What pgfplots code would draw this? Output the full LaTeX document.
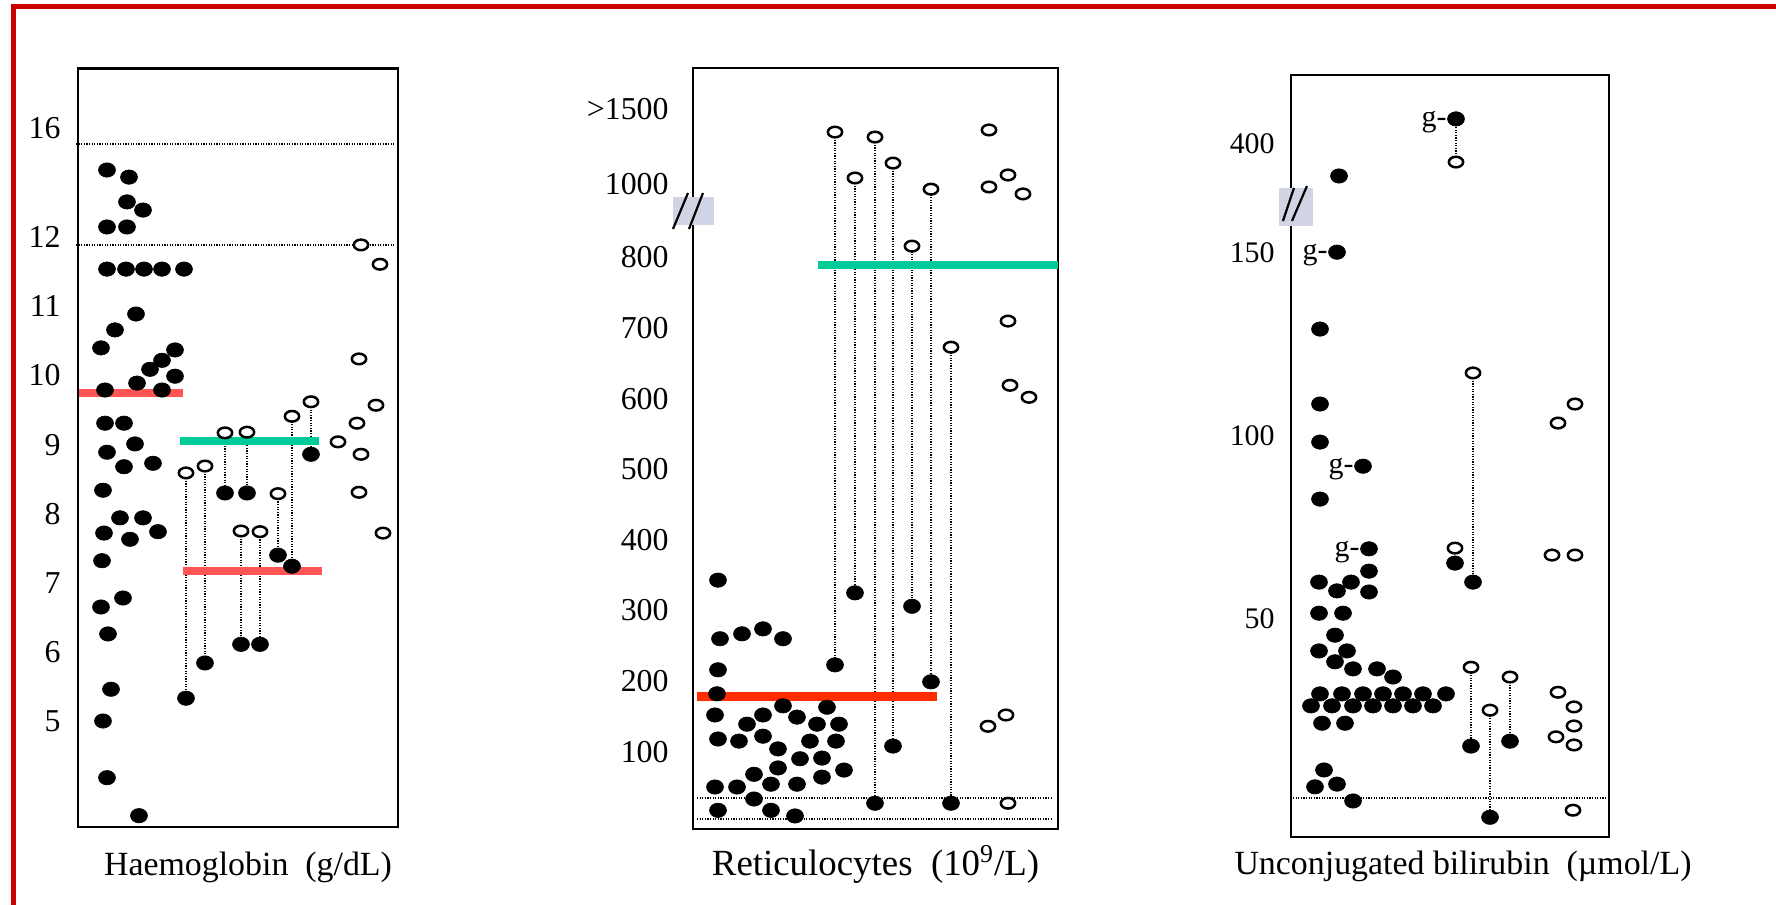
\documentclass[border=0pt]{standalone}
\usepackage{pgfplots}
\pgfplotsset{compat=1.18}
\usepackage{pgfplotstable}
\usepackage{fontspec}
\setmainfont{Liberation Serif}
\definecolor{frame}{RGB}{204,0,0}
\definecolor{meanred}{RGB}{255,85,85}
\definecolor{meanred2}{RGB}{255,45,0}
\definecolor{meangreen}{RGB}{0,204,153}
\definecolor{breakbg}{RGB}{208,212,228}

\pgfplotsset{
  dotplot/.style={
    scale only axis, clip=false,
    x=0.5bp, y=0.5bp, anchor=south west,
    axis line style={line width=1.4bp},
    xtick=\empty, major tick length=0pt,
    yticklabel style={inner sep=0pt},
  },
  fdot/.style={only marks, mark=*, mark size=3.6bp, mark options={fill=black, draw=black, line width=0.3bp, xscale=1.18}},
  odot/.style={only marks, mark=*, mark size=2.65bp, mark options={fill=white, draw=black, line width=1.25bp, xscale=1.35}},
  conn/.style={no marks, black, line width=1bp, dash pattern=on 0.6bp off 0.7bp},
  refl/.style={no marks, black, line width=1bp, dash pattern=on 0.6bp off 0.7bp},
}

% ---------------- Haemoglobin (g/dL) ----------------
\pgfplotstableread{
x v
107 14.47
129 14.21
127 13.30
143 13.00
107 12.38
127 12.38
107 11.54
126 11.54
144 11.54
162 11.54
184 11.54
136 10.89
115 10.66
101 10.40
175 10.37
162 10.22
150 10.09
175 9.99
137 9.89
105 9.79
162 9.79
105 9.31
124 9.31
135 9.01
107 8.89
124 8.68
153 8.73
103 8.34
120 7.94
143 7.94
104 7.72
130 7.63
158 7.74
102 7.32
123 6.78
101 6.65
108 6.26
111 5.46
103 5.00
107 4.18
139 3.63
}\hbFilled
\pgfplotstableread{
x o f
186 8.59 5.33
205 8.69 5.84
225 9.17 8.30
247 9.18 8.30
241 7.75 6.11
260 7.74 6.11
278 8.29 7.40
292 9.41 7.24
311 9.62 8.86
}\hbPairs
\pgfplotstableread{
x v
361 11.89
380 11.61
359 10.24
376 9.57
357 9.31
338 9.04
361 8.86
359 8.31
383 7.72
}\hbOpen

% ---------------- Reticulocytes (10^9/L) ----------------
\pgfplotstableread{
x v
718 343
720 260
742 267
763 274
783 260
718 216
717 182
715 152
747 139
763 152
783 165
797 149
817 139
827 163
839 139
718 118
739 115
763 122
778 104
810 115
836 115
800 90
822 91
778 77
754 68
844 74
822 64
715 50
737 50
771 54
797 54
754 33
718 17
771 17
795 9
}\retFilled
\pgfplotstableread{
x o f
835 1345 223
855 1040 325
875 1312 27
893 1139 108
912 831 306
931 986 199
951 673 27
}\retPairs
\pgfplotstableread{
x v
989 1359
989 992
1008 1060
1023 973
1008 710
1010 619
1029 602
988 136
1006 152
1008 27
}\retOpen

% ---------------- Unconjugated bilirubin (umol/L) ----------------
\pgfplotstableread{
x v
1339 326
1337 151
1320 129.1
1320 108.6
1320 98.2
1363 91.6
1320 82.6
1369 69.0
1369 62.9
1319 59.9
1337 57.5
1351 59.9
1369 57.2
1319 51.4
1343 51.4
1335 46.9
1319 44.0
1347 44.0
1335 42.0
1353 40.7
1377 40.7
1393 39.2
1320 36.1
1342 36.1
1363 36.1
1383 36.1
1403 36.1
1423 36.1
1446 36.1
1311 33.9
1332 33.9
1353 33.9
1373 33.9
1393 33.9
1413 33.9
1433 33.9
1322 30.7
1345 30.7
1324 22.1
1315 19.0
1337 19.5
1353 16.4
1455 65.1
}\bilFilled
\pgfplotstableread{
x o f
1456 358 457
1473 117.1 59.9
1471 41.0 26.5
1490 33.1 13.4
1510 39.2 27.4
}\bilPairs
\pgfplotstableread{
x v
1455 69.2
1558 103.4
1575 108.6
1552 67.3
1575 67.3
1558 36.4
1574 33.7
1574 30.2
1556 28.2
1574 26.7
1573 14.7
}\bilOpen

\begin{document}
\begin{tikzpicture}
\useasboundingbox (0,0) rectangle (888bp,-452.5bp);
\fill[white] (0,0) rectangle (888bp,-452.5bp);

% ===== Panel 1 =====
\begin{axis}[dotplot,
  at={(39bp,-413.5bp)},
  xmin=78, xmax=398,
  y coord trafo/.code={\pgfmathparse{ifthenelse(#1>12,27.25*#1-564.3,69.1*#1-1066.5)}},
  y coord inv trafo/.code={\pgfmathparse{ifthenelse(#1>-237.3,(#1+564.3)/27.25,(#1+1066.5)/69.1)}},
  ymin=3.466, ymax=18.21,
  ytick={5,6,7,8,9,10,11,12,16},
  yticklabels={5,6,7,8,9,10,11,12,16},
  yticklabel style={font=\fontsize{16}{16}\selectfont, xshift=-8.5bp},
  xlabel={Haemoglobin\ \ (g/dL)},
  xlabel style={font=\fontsize{17}{17}\selectfont, at={(axis description cs:0.5,0)}, anchor=base, inner sep=0pt, yshift=-24bp, xshift=5bp},
]
\addplot[refl] coordinates {(76,15.42) (395,15.42)};
\addplot[refl] coordinates {(76,11.89) (395,11.89)};
\addplot[conn] coordinates {(186,8.59) (186,5.33)};
\addplot[conn] coordinates {(205,8.69) (205,5.84)};
\addplot[conn] coordinates {(225,9.17) (225,8.30)};
\addplot[conn] coordinates {(247,9.18) (247,8.30)};
\addplot[conn] coordinates {(241,7.75) (241,6.11)};
\addplot[conn] coordinates {(260,7.74) (260,6.11)};
\addplot[conn] coordinates {(278,8.29) (278,7.40)};
\addplot[conn] coordinates {(292,9.41) (292,7.24)};
\addplot[conn] coordinates {(311,9.62) (311,8.86)};
\addplot[odot] table[x=x,y=v] {\hbOpen};
\addplot[odot] table[x=x,y=o] {\hbPairs};
\addplot[fdot] table[x=x,y=v] {\hbFilled};
\addplot[fdot] table[x=x,y=f] {\hbPairs};
\addplot[meanred, line width=4bp] coordinates {(79,9.75) (183,9.75)};
\addplot[meangreen, line width=3.8bp] coordinates {(180,9.05) (319,9.05)};
\addplot[meanred, line width=4bp] coordinates {(183,7.17) (322,7.17)};
\end{axis}

% ===== Panel 2 =====
\begin{axis}[dotplot,
  at={(346.5bp,-414.5bp)},
  xmin=693, xmax=1058,
  y coord trafo/.code={\pgfmathparse{ifthenelse(#1>1000,0.1506*#1-334.6,ifthenelse(#1>800,0.3675*#1-551.5,0.706*#1-822.3))}},
  y coord inv trafo/.code={\pgfmathparse{ifthenelse(#1>-184,(#1+334.6)/0.1506,ifthenelse(#1>-257.5,(#1+551.5)/0.3675,(#1+822.3)/0.706))}},
  ymin=-9.49, ymax=1770.3,
  ytick={100,200,300,400,500,600,700,800,1000,1500},
  yticklabels={100,200,300,400,500,600,700,800,1000,{>1500}},
  yticklabel style={font=\fontsize{16}{16}\selectfont, xshift=-12bp},
  xlabel={Reticulocytes\ \ (10\textsuperscript{9}/L)},
  xlabel style={font=\fontsize{18.5}{18.5}\selectfont, at={(axis description cs:0.5,0)}, anchor=base, inner sep=0pt, yshift=-23bp},
]
\addplot[refl] coordinates {(697,34) (1053,34)};
\addplot[refl] coordinates {(697,5) (1053,5)};
\addplot[conn] coordinates {(835,1345) (835,223)};
\addplot[conn] coordinates {(855,1040) (855,325)};
\addplot[conn] coordinates {(875,1312) (875,27)};
\addplot[conn] coordinates {(893,1139) (893,108)};
\addplot[conn] coordinates {(912,831) (912,306)};
\addplot[conn] coordinates {(931,986) (931,199)};
\addplot[conn] coordinates {(951,673) (951,27)};
\addplot[odot] table[x=x,y=v] {\retOpen};
\addplot[odot] table[x=x,y=o] {\retPairs};
\addplot[fdot] table[x=x,y=v] {\retFilled};
\addplot[fdot] table[x=x,y=f] {\retPairs};
\addplot[meanred2, line width=4.2bp] coordinates {(697,178) (937,178)};
\addplot[meangreen, line width=3.8bp] coordinates {(818,789) (1058,789)};
\end{axis}

% ===== Panel 3 =====
\begin{axis}[dotplot,
  at={(645.5bp,-418.5bp)},
  xmin=1291, xmax=1609,
  y coord trafo/.code={\pgfmathparse{ifthenelse(#1>150,0.4356*#1-317.94,ifthenelse(#1>50,3.657*#1-801.15,5.436*#1-890.1))}},
  y coord inv trafo/.code={\pgfmathparse{ifthenelse(#1>-252.6,(#1+317.94)/0.4356,ifthenelse(#1>-618.3,(#1+801.15)/3.657,(#1+890.1)/5.436))}},
  ymin=9.77, ymax=557.7,
  ytick={50,100,150,400},
  yticklabels={50,100,150,400},
  yticklabel style={font=\fontsize{15}{15}\selectfont, xshift=-8bp},
  xlabel={Unconjugated bilirubin\ \ (µmol/L)},
  xlabel style={font=\fontsize{17}{17}\selectfont, at={(axis description cs:0.5,0)}, anchor=base, inner sep=0pt, yshift=-18.5bp, xshift=6.5bp},
]
\addplot[refl] coordinates {(1293,17) (1607,17)};
\addplot[conn] coordinates {(1456,358) (1456,457)};
\addplot[conn] coordinates {(1473,117.1) (1473,59.9)};
\addplot[conn] coordinates {(1471,41.0) (1471,26.5)};
\addplot[conn] coordinates {(1490,33.1) (1490,13.4)};
\addplot[conn] coordinates {(1510,39.2) (1510,27.4)};
\addplot[odot] table[x=x,y=v] {\bilOpen};
\addplot[odot] table[x=x,y=o] {\bilPairs};
\addplot[fdot] table[x=x,y=v] {\bilFilled};
\addplot[fdot] table[x=x,y=f] {\bilPairs};
\node[anchor=base east, inner sep=0pt, font=\fontsize{15}{15}\selectfont, xshift=-4.5bp, yshift=-3.8bp] at (axis cs:1337,151) {g-};
\node[anchor=base east, inner sep=0pt, font=\fontsize{15}{15}\selectfont, xshift=-4.5bp, yshift=-3.8bp] at (axis cs:1456,457) {g-};
\node[anchor=base east, inner sep=0pt, font=\fontsize{15}{15}\selectfont, xshift=-4.5bp, yshift=-3.8bp] at (axis cs:1363,91.6) {g-};
\node[anchor=base east, inner sep=0pt, font=\fontsize{15}{15}\selectfont, xshift=-4.5bp, yshift=-3.8bp] at (axis cs:1369,69.0) {g-};
\end{axis}

% ===== frame and axis-break marks =====
\begin{scope}[x=0.5bp,y=-0.5bp]
\fill[frame] (11,3.7) rectangle (1776,9.3);
\fill[frame] (11,3.7) rectangle (16,905);
\fill[breakbg] (673,197) rectangle (714,225);
\draw[line width=1.1bp] (673,229) -- (688,193);
\draw[line width=1.1bp] (689,229) -- (703,193);
\fill[breakbg] (1279,188) rectangle (1313,226);
\draw[line width=1.1bp] (1283,221) -- (1294,188);
\draw[line width=1.1bp] (1292,221) -- (1307,186);
\end{scope}
\end{tikzpicture}
\end{document}
